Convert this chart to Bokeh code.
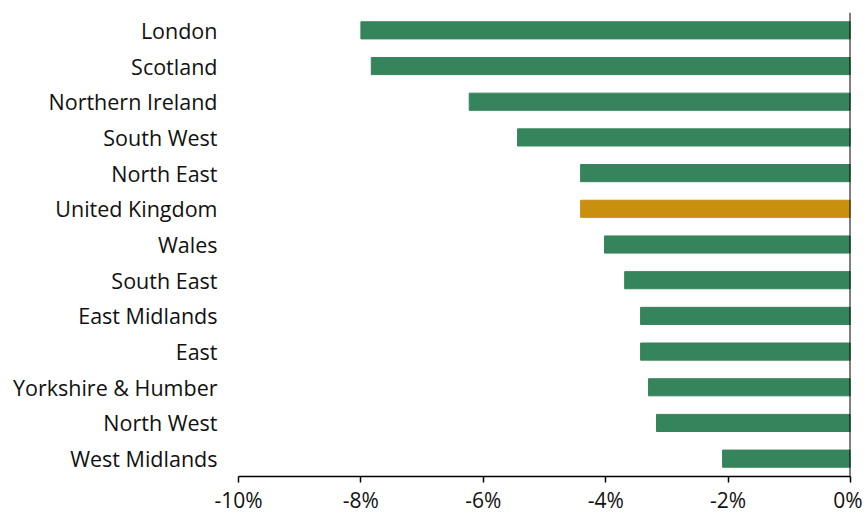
from bokeh.plotting import figure
from bokeh.models import Span, FactorRange, FixedTicker, CustomJSTickFormatter
from bokeh.embed import file_html
from bokeh.resources import INLINE

regions = ["London", "Scotland", "Northern Ireland", "South West", "North East",
           "United Kingdom", "Wales", "South East", "East Midlands", "East",
           "Yorkshire & Humber", "North West", "West Midlands"]
values = [-8.0, -7.83, -6.23, -5.44, -4.41, -4.41, -4.02, -3.69, -3.43, -3.43,
          -3.30, -3.17, -2.09]
colors = ["#c9900f" if r == "United Kingdom" else "#35845b" for r in regions]
x_ticks = [-10, -8, -6, -4, -2, 0]

p = figure(y_range=FactorRange(factors=list(reversed(regions)), range_padding=0),
           x_range=(-10, 0), frame_width=612, frame_height=464,
           min_border_left=238, min_border_top=12, min_border_right=12,
           min_border_bottom=0,
           output_backend="svg", toolbar_location=None)

p.hbar(y=regions, left=0, right=values, height=0.48, color=colors)

p.add_layout(Span(location=0, dimension="height", line_color="black", line_width=2))

p.xgrid.visible = False
p.ygrid.visible = False
p.outline_line_color = None

p.xaxis.ticker = FixedTicker(ticks=x_ticks)
p.xaxis.formatter = CustomJSTickFormatter(code="return tick + '%';")
p.xaxis.minor_tick_line_color = None
p.xaxis.major_tick_in = 0
p.xaxis.major_tick_out = 6
p.xaxis.axis_line_color = "black"
p.xaxis.axis_line_width = 1.5
p.xaxis.major_tick_line_color = "black"
p.xaxis.major_tick_line_width = 1.5
p.xaxis.major_label_text_font = "Open Sans"
p.xaxis.major_label_text_font_size = "21px"
p.xaxis.major_label_text_color = "#111111"
p.xaxis.major_label_standoff = 3

p.yaxis.axis_line_color = None
p.yaxis.major_tick_line_color = None
p.yaxis.minor_tick_line_color = None
p.yaxis.major_label_text_font = "Open Sans"
p.yaxis.major_label_text_font_size = "21.5px"
p.yaxis.major_label_text_color = "#111111"
p.yaxis.major_label_standoff = 15

open("out.html", "w").write(file_html(p, INLINE))
